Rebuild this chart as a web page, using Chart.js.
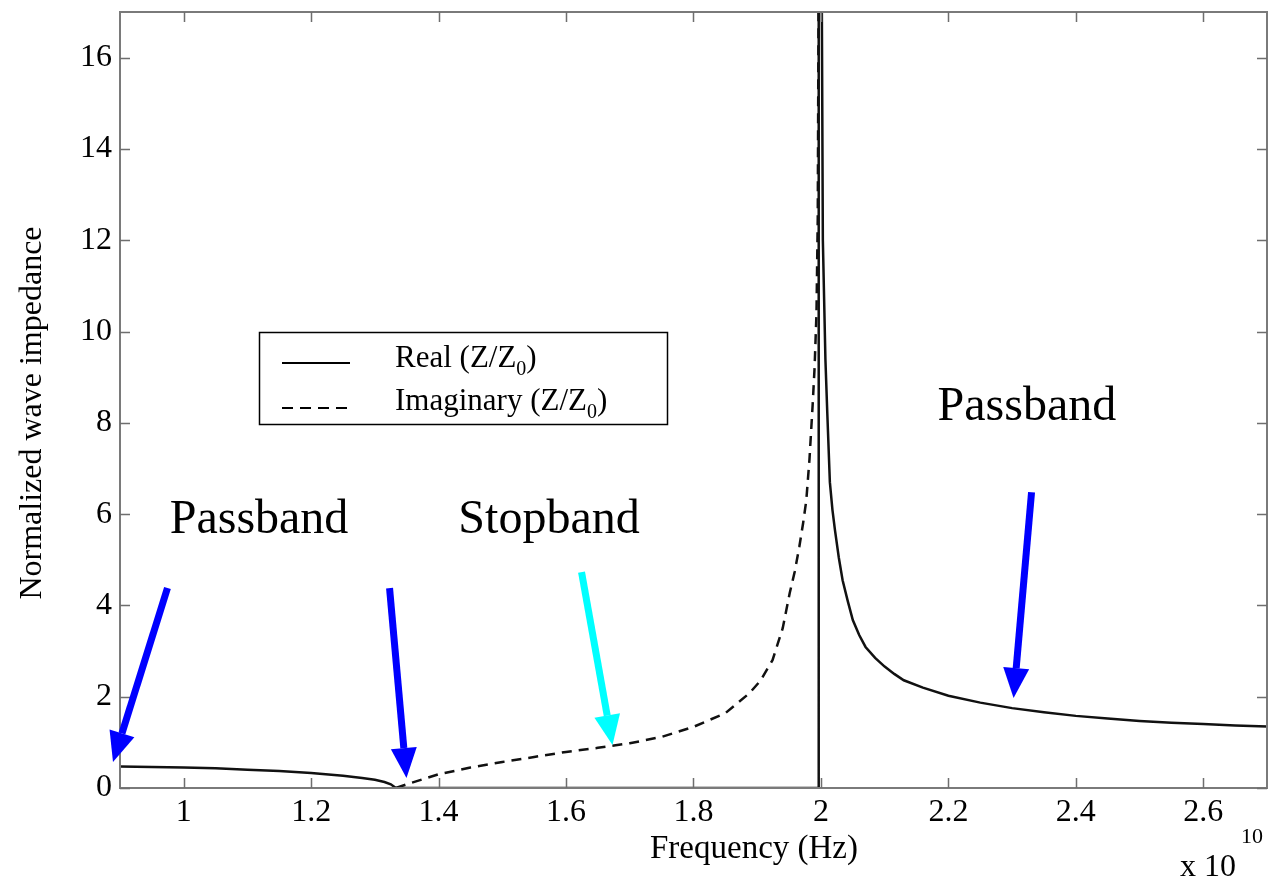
<!DOCTYPE html>
<html>
<head>
<meta charset="utf-8">
<script src="https://cdn.jsdelivr.net/npm/chart.js@4.4.1/dist/chart.umd.min.js"></script>
<style>
  html, body { margin: 0; padding: 0; background: #ffffff; }
  #wrap { width: 1268px; height: 884px; }
</style>
</head>
<body>
<div id="wrap"><canvas id="c" width="1268" height="884"></canvas></div>
<script>
// ---- data (frequency in units of 1e10 Hz) ----
const xTicks = [1, 1.2, 1.4, 1.6, 1.8, 2, 2.2, 2.4, 2.6];
const yTicks = [0, 2, 4, 6, 8, 10, 12, 14, 16];

const realFreq = [0.9, 0.95, 1.0, 1.05, 1.1, 1.15, 1.2, 1.25, 1.28, 1.3, 1.315, 1.325, 1.333,
                  1.996, 1.9965, 2.0005, 2.003, 2.007, 2.010, 2.014, 2.018, 2.022, 2.028, 2.034,
                  2.042, 2.05, 2.06, 2.07, 2.085, 2.10, 2.115, 2.13, 2.16, 2.2, 2.25, 2.3, 2.35,
                  2.4, 2.45, 2.5, 2.55, 2.6, 2.65, 2.7];
const realVals = [0.47, 0.46, 0.45, 0.43, 0.40, 0.37, 0.33, 0.27, 0.22, 0.18, 0.13, 0.08, 0,
                  0, 20, 20, 12, 9.4, 8.2, 6.7, 6.1, 5.65, 5.05, 4.55,
                  4.1, 3.68, 3.35, 3.09, 2.85, 2.66, 2.5, 2.36, 2.2, 2.02, 1.87, 1.75, 1.66,
                  1.58, 1.52, 1.47, 1.43, 1.40, 1.37, 1.35];

const imagFreq = [1.333, 1.35, 1.4, 1.45, 1.5, 1.55, 1.6, 1.65, 1.7, 1.75, 1.8, 1.85, 1.888,
                  1.905, 1.924, 1.94, 1.951, 1.959, 1.966, 1.972, 1.977, 1.982, 1.987, 1.990,
                  1.993, 1.995, 1.997];
const imagVals = [0, 0.08, 0.3, 0.45, 0.57, 0.68, 0.79, 0.88, 0.98, 1.12, 1.34, 1.64, 2.08,
                  2.35, 2.8, 3.5, 4.27, 4.75, 5.28, 5.8, 6.3, 7.2, 8.4, 9.2,
                  10.4, 12.5, 20];

const seriesNames = ["Real", "Imaginary"];

// annotations in data units
const bandLabels = [
  { text: "Passband", x: 0.978, y: 5.58 },
  { text: "Stopband", x: 1.431, y: 5.58 },
  { text: "Passband", x: 2.183, y: 8.06 }
];
const arrows = [
  { x0: 0.9745, y0: 4.38, x1: 0.889, y1: 0.57, color: "#0000ff" },
  { x0: 1.323,  y0: 4.38, x1: 1.3496, y1: 0.22, color: "#0000ff" },
  { x0: 1.6243, y0: 4.73, x1: 1.6729, y1: 0.94, color: "#00ffff" },
  { x0: 2.3305, y0: 6.48, x1: 2.3023, y1: 1.97, color: "#0000ff" }
];

const FONT = "'Liberation Serif', 'Times New Roman', serif";

function toXY(xs, ys) { return xs.map((x, i) => ({ x: x, y: ys[i] })); }

const decor = {
  id: 'decor',
  afterDatasetsDraw(chart) {
    const ctx = chart.ctx;
    const a = chart.chartArea;
    const sx = chart.scales.x, sy = chart.scales.y;
    ctx.save();
    // frame
    ctx.strokeStyle = '#7a7a7a';
    ctx.lineWidth = 2;
    ctx.strokeRect(a.left, a.top, a.right - a.left, a.bottom - a.top);
    // inward ticks on all sides
    ctx.lineWidth = 1.5;
    ctx.strokeStyle = '#6e6e6e';
    ctx.beginPath();
    xTicks.forEach(v => {
      const p = Math.round(sx.getPixelForValue(v)) + 0.5;
      ctx.moveTo(p, a.bottom); ctx.lineTo(p, a.bottom - 10);
      ctx.moveTo(p, a.top); ctx.lineTo(p, a.top + 10);
    });
    yTicks.forEach(v => {
      const p = Math.round(sy.getPixelForValue(v)) + 0.5;
      ctx.moveTo(a.left, p); ctx.lineTo(a.left + 10, p);
      ctx.moveTo(a.right, p); ctx.lineTo(a.right - 10, p);
    });
    ctx.stroke();

    // band labels
    ctx.fillStyle = '#000';
    ctx.font = '48px ' + FONT;
    ctx.textAlign = 'left';
    ctx.textBaseline = 'alphabetic';
    bandLabels.forEach(b => {
      ctx.fillText(b.text, sx.getPixelForValue(b.x), sy.getPixelForValue(b.y));
    });

    // arrows
    arrows.forEach(ar => {
      const x0 = sx.getPixelForValue(ar.x0), y0 = sy.getPixelForValue(ar.y0);
      const x1 = sx.getPixelForValue(ar.x1), y1 = sy.getPixelForValue(ar.y1);
      const ang = Math.atan2(y1 - y0, x1 - x0);
      const headLen = 30, headW = 13;
      const bx = x1 - headLen * Math.cos(ang), by = y1 - headLen * Math.sin(ang);
      ctx.strokeStyle = ar.color;
      ctx.fillStyle = ar.color;
      ctx.lineWidth = 7;
      ctx.lineCap = 'butt';
      ctx.beginPath();
      ctx.moveTo(x0, y0); ctx.lineTo(bx, by);
      ctx.stroke();
      ctx.beginPath();
      ctx.moveTo(x1, y1);
      ctx.lineTo(bx + headW * Math.sin(ang), by - headW * Math.cos(ang));
      ctx.lineTo(bx - headW * Math.sin(ang), by + headW * Math.cos(ang));
      ctx.closePath();
      ctx.fill();
    });

    // legend
    ctx.strokeStyle = '#000';
    ctx.lineWidth = 1.5;
    ctx.strokeRect(259.5, 332.5, 408, 92);
    ctx.lineWidth = 2;
    ctx.setLineDash([]);
    ctx.beginPath(); ctx.moveTo(282, 363); ctx.lineTo(350, 363); ctx.stroke();
    ctx.setLineDash([11, 7]);
    ctx.beginPath(); ctx.moveTo(282, 408); ctx.lineTo(350, 408); ctx.stroke();
    ctx.setLineDash([]);
    function legText(label, x, y) {
      ctx.font = '31px ' + FONT;
      ctx.fillStyle = '#000';
      let t = label + ' (Z/Z';
      ctx.fillText(t, x, y);
      let w = ctx.measureText(t).width;
      ctx.font = '20px ' + FONT;
      ctx.fillText('0', x + w, y + 8);
      let w2 = ctx.measureText('0').width;
      ctx.font = '31px ' + FONT;
      ctx.fillText(')', x + w + w2, y);
    }
    legText(seriesNames[0], 395, 367);
    legText(seriesNames[1], 395, 410);

    // axis titles
    ctx.fillStyle = '#000';
    ctx.font = '33px ' + FONT;
    ctx.textAlign = 'center';
    ctx.fillText('Frequency (Hz)', 754, 858);
    ctx.textAlign = 'left';
    ctx.font = '32px ' + FONT;
    ctx.fillText('x 10', 1180, 876);
    ctx.font = '22px ' + FONT;
    ctx.fillText('10', 1241, 843);

    ctx.save();
    ctx.translate(41, 413);
    ctx.rotate(-Math.PI / 2);
    ctx.font = '32px ' + FONT;
    ctx.textAlign = 'center';
    ctx.fillText('Normalized wave impedance', 0, 0);
    ctx.restore();

    ctx.restore();
  }
};

new Chart(document.getElementById('c'), {
  type: 'line',
  data: {
    datasets: [
      {
        label: seriesNames[0],
        data: toXY(realFreq, realVals),
        borderColor: '#111',
        borderWidth: 2.5,
        pointRadius: 0,
        tension: 0,
        fill: false
      },
      {
        label: seriesNames[1],
        data: toXY(imagFreq, imagVals),
        borderColor: '#111',
        borderWidth: 2.5,
        borderDash: [10, 7],
        pointRadius: 0,
        tension: 0,
        fill: false
      }
    ]
  },
  options: {
    responsive: false,
    animation: false,
    devicePixelRatio: 1,
    layout: { padding: { top: 12, right: 1, left: 0, bottom: 0 } },
    plugins: { legend: { display: false }, tooltip: { enabled: false } },
    scales: {
      x: {
        type: 'linear',
        min: 0.9, max: 2.7,
        grid: { display: false, drawTicks: false },
        border: { display: false },
        afterBuildTicks: s => { s.ticks = xTicks.map(v => ({ value: v })); },
        afterFit: s => { s.height = 96; s.paddingLeft = 0; s.paddingRight = 0; },
        ticks: {
          color: '#000',
          font: { family: FONT, size: 32 },
          padding: 5,
          maxRotation: 0,
          autoSkip: false,
          callback: v => String(v)
        }
      },
      y: {
        type: 'linear',
        min: 0, max: 17,
        grid: { display: false, drawTicks: false },
        border: { display: false },
        afterBuildTicks: s => { s.ticks = yTicks.map(v => ({ value: v })); },
        afterFit: s => { s.width = 120; s.paddingTop = 0; s.paddingBottom = 0; },
        ticks: {
          color: '#000',
          font: { family: FONT, size: 32 },
          padding: 8,
          autoSkip: false,
          callback: v => String(v)
        }
      }
    }
  },
  plugins: [decor]
});
</script>
</body>
</html>
